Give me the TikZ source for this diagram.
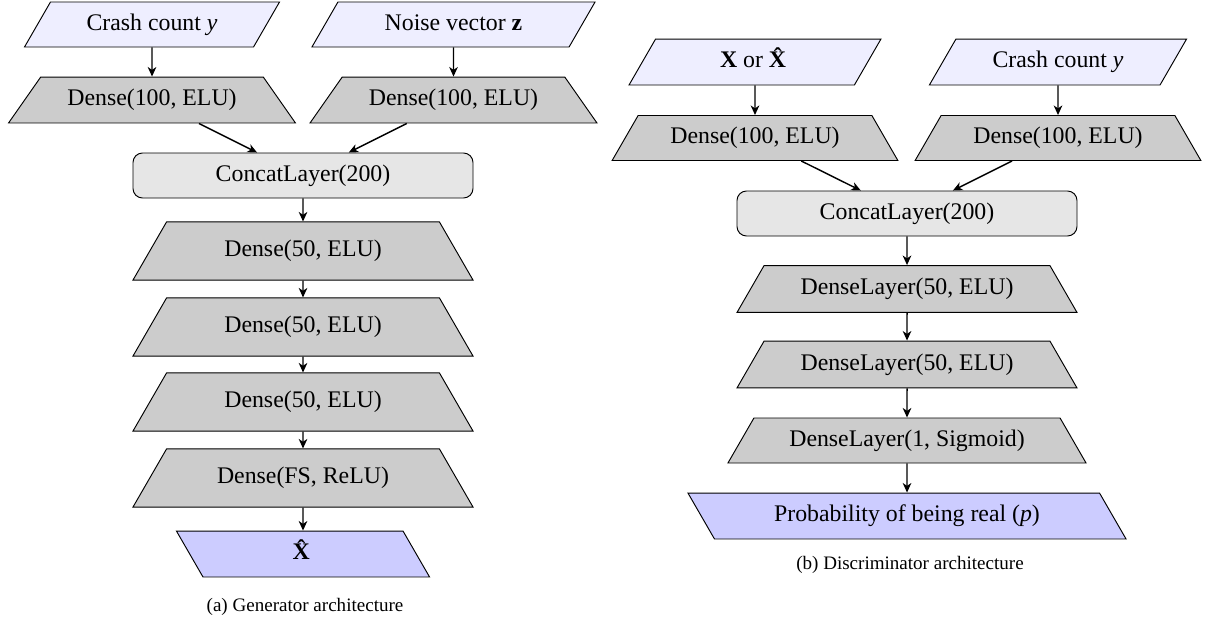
\documentclass[tikz,border=0pt]{standalone}
\usepackage{fontspec}
\setmainfont{Liberation Serif}
\usetikzlibrary{shapes.geometric,arrows.meta}

\definecolor{inblue}{RGB}{238,238,255}
\definecolor{outblue}{RGB}{204,204,255}
\definecolor{densegray}{RGB}{204,204,204}
\definecolor{concatgray}{RGB}{230,230,230}

\begin{document}
\begin{tikzpicture}[x=0.42pt,y=-0.42pt,
		inbox/.style={trapezium, trapezium left angle=60, trapezium right angle=120, trapezium stretches body, draw, fill=inblue, inner xsep=0pt, text height=7pt, text depth=2pt},
		outbox/.style={inbox, trapezium left angle=120, trapezium right angle=60, fill=outblue},
		dense/.style={trapezium, trapezium left angle=60, trapezium right angle=60, trapezium stretches body, draw, fill=densegray, inner xsep=0pt, text height=7pt, text depth=2pt},
		concat/.style={rectangle, rounded corners=4pt, draw, fill=concatgray, minimum width=142.8pt, minimum height=18.9pt},
		arr/.style={line width=0.6pt, -{Stealth[length=4pt,width=3.6pt,inset=1.2pt]}},
		caption/.style={font=\footnotesize}]
			\useasboundingbox (0,0) rectangle (1205,619);

			% GENERATOR
			\node[inbox, minimum width=107.1pt, inner ysep=4.95pt] (gy) at (152,24.5) {Crash count \textit{y}};
			\node[inbox, minimum width=118.9pt, inner ysep=4.95pt] (gz) at (453.5,24.5) {Noise vector \textbf{z}};
			\node[dense, trapezium left angle=55, trapezium right angle=55, minimum width=120.5pt, inner ysep=5.15pt] (gdy) at (152,100) {Dense(100, ELU)};
			\node[dense, trapezium left angle=55, trapezium right angle=55, minimum width=120.5pt, inner ysep=5.15pt] (gdz) at (453.5,100) {Dense(100, ELU)};
			\node[concat] (gcat) at (303,175.5) {ConcatLayer(200)};
			\node[dense, minimum width=142.8pt, inner ysep=7.7pt] (gd1) at (303,251) {Dense(50, ELU)};
			\node[dense, minimum width=142.8pt, inner ysep=7.7pt] (gd2) at (303,327) {Dense(50, ELU)};
			\node[dense, minimum width=142.8pt, inner ysep=7.7pt] (gd3) at (303,402) {Dense(50, ELU)};
			\node[dense, minimum width=142.8pt, inner ysep=7.7pt] (gfs) at (303,478) {Dense(FS, ReLU)};
			\node[outbox, minimum width=106.3pt, inner ysep=5.15pt] (gx) at (303,554) {\textbf{\^{X}}};
			\node[caption] (gcap) at (305,607) {(a) Generator architecture};

			\foreach \a/\b in {gy/gdy, gz/gdz, gdy/gcat, gdz/gcat, gcat/gd1, gd1/gd2, gd2/gd3, gd3/gfs, gfs/gx} {
				\draw[arr] (\a) -- (\b);
			}

			% DISCRIMINATOR
			\node[inbox, minimum width=105.8pt, inner ysep=5.15pt] (dx) at (755,62) {\textbf{X} or \textbf{\^{X}}};
			\node[inbox, minimum width=108pt, inner ysep=5.15pt] (dy) at (1058,62) {Crash count \textit{y}};
			\node[dense, minimum width=120pt, inner ysep=4.95pt] (ddx) at (755,138) {Dense(100, ELU)};
			\node[dense, minimum width=120pt, inner ysep=4.95pt] (ddy) at (1058,138) {Dense(100, ELU)};
			\node[concat] (dcat) at (907,213.5) {ConcatLayer(200)};
			\node[dense, minimum width=142.8pt, inner ysep=5.35pt] (dl1) at (907,289) {DenseLayer(50, ELU)};
			\node[dense, minimum width=142.8pt, inner ysep=5.35pt] (dl2) at (907,364.5) {DenseLayer(50, ELU)};
			\node[dense, minimum width=150.4pt, inner ysep=4.95pt] (dl3) at (907,440.5) {DenseLayer(1, Sigmoid)};
			\node[outbox, minimum width=184pt, inner ysep=5.15pt] (dp) at (907,516) {Probability of being real (\textit{p})};
			\node[caption] (dcap) at (910,565) {(b) Discriminator architecture};

			\foreach \a/\b in {dx/ddx, dy/ddy, ddx/dcat, ddy/dcat, dcat/dl1, dl1/dl2, dl2/dl3, dl3/dp} {
				\draw[arr] (\a) -- (\b);
			}
\end{tikzpicture}
\end{document}
